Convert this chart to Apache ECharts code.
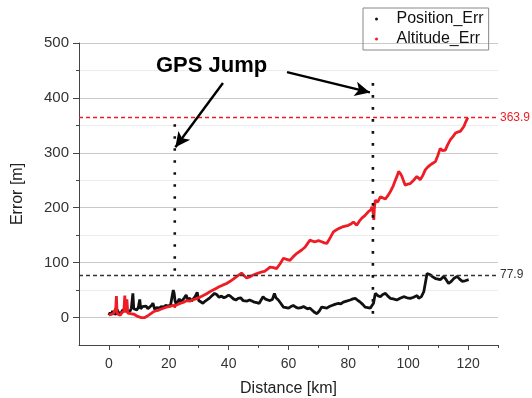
<!DOCTYPE html>
<html><head><meta charset="utf-8">
<script src="https://cdn.jsdelivr.net/npm/echarts@6/dist/echarts.min.js"></script>
<style>html,body{margin:0;padding:0;background:#fff}#c{width:532px;height:398px}</style>
</head><body><div id="c"></div>
<script>
// ---- data ----
const seriesNames = ['Position_Err', 'Altitude_Err'];
const positionErr = [
[0,4],[0.4,9],[0.8,5],[1.2,12],[1.6,7],[2,10],[2.4,6],[2.8,14],[3.2,9],[3.6,11],[4,7],[4.5,13],[5,10],[5.5,16],[6,12],[6.5,15],[7,11],[7.5,17],[8,44],[8.3,16],[8.8,19],[9.3,14],[9.8,18],[10.3,33],[10.6,16],[11.2,20],[11.8,17],[12.4,21],[13,16],[13.6,19],[14.2,22],[14.7,26],[15.3,15],[16,18],[16.8,17],[17.5,20],[18.2,19],[19,22],[19.8,21],[20.6,23],[21.2,24],[21.5,50],[21.8,44],[22.1,30],[22.5,24],[23,29],[23.5,34],[24,28],[24.6,31],[25.2,36],[25.8,41],[26.3,33],[27,35],[27.6,30],[28.2,33],[28.8,38],[29.5,46],[30,31],[30.6,28],[31.4,26],[32.2,30],[33,33],[33.7,36],[34.5,40],[35.3,44],[36,42],[36.8,37],[37.6,39],[38.4,36],[39.2,38],[40,41],[40.8,38],[41.6,34],[42.4,32],[43.2,35],[44,36],[44.8,31],[45.4,28],[46.2,30],[47,32],[47.8,30],[48.6,28],[49.4,27],[50.2,26],[50.8,27],[51.5,38],[52.2,34],[53,32],[53.8,31],[54.6,33],[55.3,44],[55.8,36],[56.6,32],[57.4,26],[58.3,19],[59.2,18],[60,17],[60.8,20],[61.6,22],[62.4,19],[63.3,17],[64.2,18],[65,20],[65.5,19],[66.3,16],[67.2,17],[68,13],[68.8,9],[69.5,7],[70.3,12],[71.1,19],[72,18],[72.8,17],[73.6,20],[74.5,22],[75.5,24],[76.7,26],[77.5,25],[78.3,28],[79.4,30],[80.6,32],[81.5,34],[82.3,35],[83.2,31],[84,28],[84.8,24],[85.6,19],[86.5,18],[87.3,17],[87.9,16],[88.4,26],[88.8,38],[89,44],[89.8,40],[90.7,38],[91.5,42],[92.4,44],[93.2,39],[94,35],[95,34],[96.2,32],[97.3,35],[98.5,38],[99.6,36],[100.7,35],[101.8,37],[103,40],[103.5,35],[104.4,38],[105.2,47],[105.8,65],[106.3,80],[107.4,78],[108.2,74],[109.1,71],[110,70],[110.7,69],[111.9,75],[112.8,68],[113.5,62],[114.4,66],[115.2,71],[116.3,75],[117.2,70],[118,66],[119,67],[120.2,69]
];
const altitudeErr = [
[0,4],[0.4,2],[0.8,6],[1.2,3],[1.6,8],[2,5],[2.3,18],[2.5,39],[2.7,10],[3,6],[3.4,9],[3.8,4],[4.2,8],[4.6,5],[5,12],[5.3,40],[5.6,9],[6,33],[6.3,8],[6.8,5],[7.2,7],[7.8,4],[8.4,6],[9,3],[9.6,2],[10.2,1],[10.8,0],[11.4,1],[12,0],[12.6,2],[13.2,4],[13.8,6],[14.7,10],[15.5,12],[16.4,13],[17.3,15],[18.2,17],[19.2,19],[20,20],[20.8,21],[21.5,22],[22.3,22],[23,24],[24,26],[25,28],[26,31],[27,30],[28,32],[29,34],[30.4,37],[31.5,40],[32.5,43],[33.7,47],[34.8,50],[35.8,53],[36.8,56],[38,59],[39.3,62],[40.5,66],[42,72],[43,76],[44.3,81],[45.2,76],[46,72],[47,74],[48,77],[49,79],[49.9,81],[51,83],[52,84],[53,88],[53.8,92],[55,91],[56,89],[57.2,98],[58.3,108],[59.4,106],[60.5,104],[61.6,111],[62.8,117],[64.4,123],[65.5,128],[66.4,135],[67.2,141],[68,139],[68.9,138],[70,140],[71.1,138],[72,136],[72.8,135],[74,146],[75,156],[75.8,159],[76.7,162],[78,165],[80,168],[81,171],[81.7,174],[82.8,168],[83.6,175],[84.5,181],[85.6,186],[86.7,193],[87.5,196],[87.9,202],[88.3,190],[88.5,178],[88.7,200],[89,214],[89.8,210],[90.7,220],[91.5,218],[92.4,216],[93.2,222],[94,229],[95,240],[95.7,250],[96.3,258],[96.8,266],[97.4,262],[97.9,257],[98.5,248],[99,241],[99.8,243],[100.7,244],[101.8,250],[102.9,257],[104,251],[104.8,258],[105.7,269],[106.5,274],[107.4,278],[108.2,281],[109.1,284],[109.9,295],[110.7,308],[111.5,304],[112.4,305],[113.2,315],[114.1,324],[115,330],[115.8,336],[116.6,338],[117.4,339],[118,342],[118.6,348],[119.2,356],[119.7,362],[120,364]
];
const maxLevels = [77.9, 363.9];           // position, altitude reference lines
const xMajorTicks = [0,20,40,60,80,100,120];
const xMinorTicks = [10,30,50,70,90,110,130];
const yMajorTicks = [0,100,200,300,400,500];
const yMinorTicks = [50,150,250,350,450];
// GPS jump dotted segments
const jumpX = [22, 22, 88.2];
const jumpTop = [352, 22, 427];
const jumpBottom = [70, 3, 5];
const jumpSeries = [0, 1, 0];
// annotation arrows (data coordinates): start x, start y, end x, end y
const arrowX1 = [38.1, 59.5];
const arrowY1 = [427, 447];
const arrowX2 = [22.2, 87.2];
const arrowY2 = [310, 410];
const annotationText = 'GPS Jump';

const colors = ['#111111', '#ee1c25'];
const FONT = 'Liberation Sans, Arial, sans-serif';

const chart = echarts.init(document.getElementById('c'), null, {renderer: 'canvas'});

const series = [
  {
    name: seriesNames[0], type: 'line', data: positionErr, symbol: 'none',
    lineStyle: {color: colors[0], width: 2.8}, itemStyle: {color: colors[0]}, z: 3,
    markLine: {
      silent: true, symbol: 'none',
      data: [{yAxis: maxLevels[0]}],
      lineStyle: {color: '#333', type: [4, 3], width: 1.3},
      label: {show: true, position: 'end', formatter: String(maxLevels[0]), color: '#333', fontSize: 12, fontFamily: FONT, distance: 2}
    }
  },
  {
    name: seriesNames[1], type: 'line', data: altitudeErr, symbol: 'none',
    lineStyle: {color: colors[1], width: 2.8}, itemStyle: {color: colors[1]}, z: 4,
    markLine: {
      silent: true, symbol: 'none',
      data: [{yAxis: maxLevels[1]}],
      lineStyle: {color: colors[1], type: [4, 3], width: 1.3},
      label: {show: true, position: 'end', formatter: String(maxLevels[1]), color: colors[1], fontSize: 12, fontFamily: FONT, distance: 2}
    }
  }
];
jumpX.forEach((x, i) => {
  series.push({
    name: 'jump' + i, type: 'line', symbol: 'none', silent: true, z: 5,
    data: [[x, jumpTop[i]], [x, jumpBottom[i]]],
    lineStyle: {color: colors[jumpSeries[i]], width: 2.6, type: [2.6, 9.4], cap: 'butt'}
  });
});
series.push({
  name: 'arrows', type: 'line', data: [], symbol: 'none', silent: true, z: 6,
  markLine: {
    silent: true, symbol: ['none', 'arrow'], symbolSize: [11, 15],
    lineStyle: {color: '#000', width: 2.4, type: 'solid'},
    label: {show: false},
    data: arrowX1.map((x, i) => [{coord: [x, arrowY1[i]]}, {coord: [arrowX2[i], arrowY2[i]]}])
  }
});

chart.setOption({
  animation: false,
  textStyle: {fontFamily: FONT},
  grid: {left: 79, right: 34, top: 43, bottom: 53, containLabel: false, outerBoundsMode: 'none'},
  legend: {
    data: seriesNames, left: 363, top: 8, orient: 'vertical',
    icon: 'circle', itemWidth: 30, itemHeight: 3, itemGap: 4,
    padding: [3, 5, 3, 12], borderColor: '#888', borderWidth: 1,
    textStyle: {fontSize: 16, color: '#111', fontFamily: FONT}
  },
  graphic: [{
    type: 'text', left: 156, top: 55, z: 10,
    style: {text: annotationText, font: 'bold 22px ' + FONT, fill: '#000'}
  }],
  xAxis: [{
    type: 'value', min: -10, max: 130, interval: 10,
    name: 'Distance [km]', nameLocation: 'middle', nameGap: 36,
    nameTextStyle: {fontSize: 16, color: '#222', fontFamily: FONT},
    axisLine: {onZero: false, lineStyle: {color: '#444', width: 1}},
    axisTick: {show: true, customValues: xMajorTicks, length: 5, lineStyle: {color: '#444'}},
    axisLabel: {customValues: xMajorTicks, fontSize: 14, color: '#333', margin: 12, fontFamily: FONT},
    splitLine: {show: false}
  }, {
    type: 'value', min: -10, max: 130, interval: 10, position: 'bottom',
    axisLine: {show: false, onZero: false}, axisLabel: {show: false}, splitLine: {show: false},
    axisTick: {show: true, customValues: xMinorTicks, length: 3, lineStyle: {color: '#444'}}
  }],
  yAxis: [{
    type: 'value', min: -50, max: 500, interval: 50,
    name: 'Error [m]', nameLocation: 'middle', nameGap: 53,
    nameTextStyle: {fontSize: 16, color: '#222', fontFamily: FONT},
    axisLine: {show: true, onZero: false, lineStyle: {color: '#444', width: 1}},
    axisTick: {show: true, customValues: yMajorTicks, length: 6, lineStyle: {color: '#444'}},
    axisLabel: {customValues: yMajorTicks, fontSize: 15, color: '#333', margin: 10, fontFamily: FONT},
    splitLine: {show: true, lineStyle: {color: '#c9c9c9', width: 1}}
  }, {
    type: 'value', min: -50, max: 500, interval: 50, position: 'left',
    axisLine: {show: false, onZero: false}, axisLabel: {show: false},
    axisTick: {show: true, customValues: yMinorTicks, length: 3, lineStyle: {color: '#444'}},
    splitLine: {show: true, lineStyle: {color: '#ececec', width: 1}}
  }],
  series: series
});
</script>
</body></html>
